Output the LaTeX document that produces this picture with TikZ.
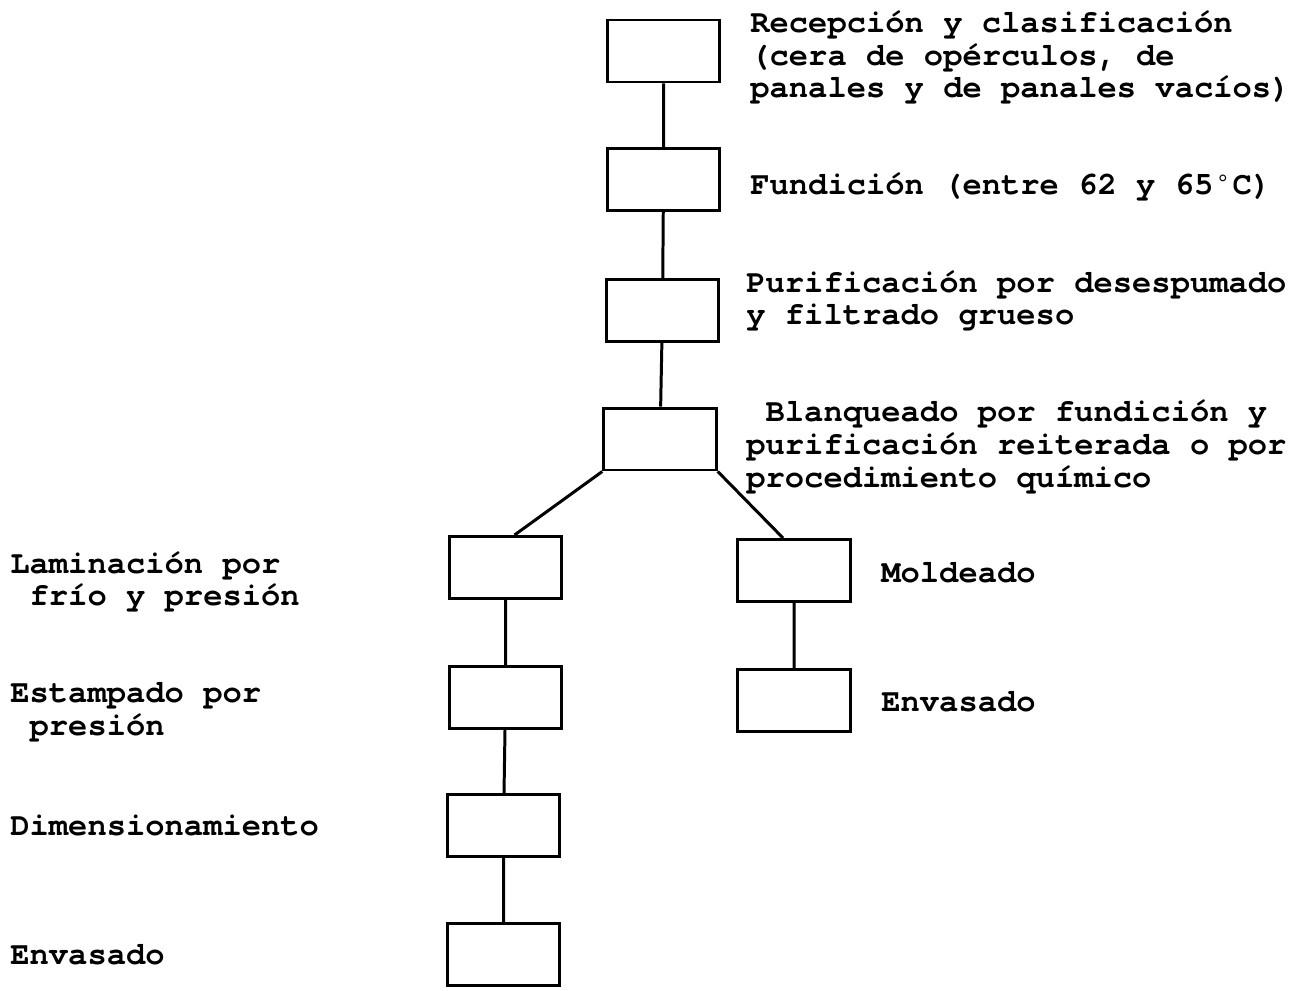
\documentclass[tikz,border=0pt]{standalone}
\usepackage{fontspec}
\setmonofont{TeX Gyre Cursor}[Ligatures=NoCommon]
\newcommand{\grado}{\makebox[0.6em]{\raisebox{0.25em}{\scalebox{0.6}{°}}}}

\begin{document}
\begin{tikzpicture}[x=0.02cm,y=-0.02cm,
paso/.style={draw,line width=1.7pt,minimum width=2.25cm,minimum height=1.24cm,inner sep=0pt},
texto/.style={anchor=west,align=left,inner sep=0pt,font=\ttfamily\bfseries\fontsize{18.3}{18.6}\selectfont}]
\useasboundingbox (0,0) rectangle (1293,990);
\node[paso] (recep) at (663.5,51) {};
\node[paso] (fund) at (663.5,179.5) {};
\node[paso] (purif) at (662.5,310.5) {};
\node[paso] (blanq) at (660,439) {};
\node[paso] (lamin) at (505.5,567.5) {};
\node[paso] (molde) at (794,570.5) {};
\node[paso] (estamp) at (505.5,697.5) {};
\node[paso] (envder) at (794,700.5) {};
\node[paso] (dimen) at (503.5,825.5) {};
\node[paso] (envizq) at (503.5,954.5) {};
\draw[line width=1.7pt] (recep) -- (fund) -- (purif) -- (blanq)
(blanq.south west) -- ([xshift=0.18cm]lamin.north)
(blanq.south east) -- ([xshift=-0.22cm]molde.north)
(lamin) -- (estamp) -- (dimen) -- (envizq)
(molde) -- (envder);
\node[texto] (trecep) at (750,57.5) {Recepción y clasificación\\(cera de opérculos, de\\panales y de panales vacíos)};
\node[texto] (tfund) at (750,187) {Fundición (entre 62 y 65\grado C)};
\node[texto] (tpurif) at (746,301) {Purificación por desespumado\\y filtrado grueso};
\node[texto] (tblanq) at (746,447) {\hspace*{0.6em}Blanqueado por fundición y\\purificación reiterada o por\\procedimiento químico};
\node[texto] (tmolde) at (881,573) {Moldeado};
\node[texto] (tenvder) at (881,702) {Envasado};
\node[texto] (tlamin) at (10,582) {Laminación por\\\hspace*{0.6em}frío y presión};
\node[texto] (testamp) at (10,712) {Estampado por\\\hspace*{0.6em}presión};
\node[texto] (tdimen) at (10,825) {Dimensionamiento};
\node[texto] (tenvizq) at (10,955) {Envasado};
\end{tikzpicture}
\end{document}
